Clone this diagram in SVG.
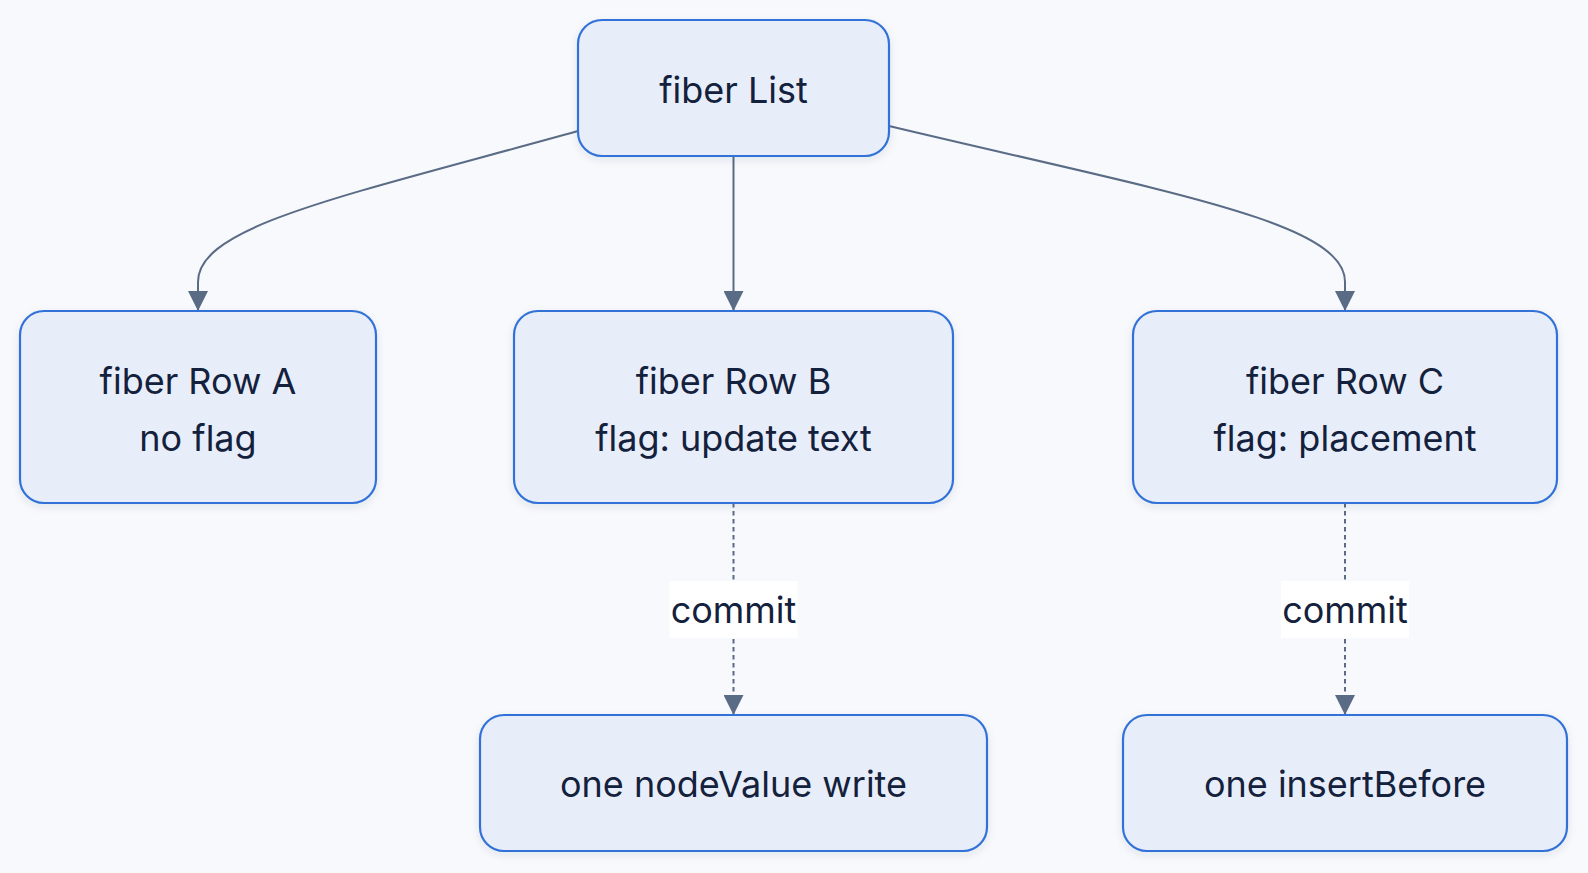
<svg xmlns="http://www.w3.org/2000/svg" width="1588" height="873" viewBox="0 0 1588 873">
<style>
.node rect{fill:#e8eef9;stroke:#3272d8;stroke-width:2.2;filter:url(#sh)}
.node text,.lbl text{font-family:Inter,"Noto Sans","Liberation Sans",sans-serif;font-size:36px;fill:#14213d;text-anchor:middle}
.edge{fill:none;stroke:#5a6b85;stroke-width:2}
.dash{stroke-dasharray:4.5 3.5}
.lbl rect{fill:#ffffff}
</style>
<defs>
<filter id="sh" x="-10%" y="-10%" width="120%" height="130%">
<feDropShadow dx="0" dy="3" stdDeviation="4" flood-color="#1e2b4a" flood-opacity="0.09"/>
</filter>
<marker id="arrow" viewBox="0 0 20 20" refX="20" refY="10" markerWidth="20" markerHeight="20" markerUnits="userSpaceOnUse" orient="auto">
<path d="M0,0 L20,10 L0,20 z" fill="#5a6b85"/>
</marker>
</defs>
<rect width="1588" height="873" fill="#f7f9fc"/>
<g id="connectors">
<path class="edge" d="M578,131 C340,197 198,226 198,282 L198,311" marker-end="url(#arrow)"/>
<path class="edge" d="M733.5,156 L733.5,311" marker-end="url(#arrow)"/>
<path class="edge" d="M889,126 C1170,193 1345,222 1345,282 L1345,311" marker-end="url(#arrow)"/>
<path class="edge dash" d="M733.5,503 L733.5,715" marker-end="url(#arrow)"/>
<path class="edge dash" d="M1345,503 L1345,715" marker-end="url(#arrow)"/>
<g class="lbl" id="lbl-b"><rect x="669.5" y="581" width="128" height="57"/><text x="733.5" y="623">commit</text></g>
<g class="lbl" id="lbl-c"><rect x="1281" y="581" width="128" height="57"/><text x="1345" y="623">commit</text></g>
</g>
<g class="node" id="list"><rect x="578" y="20" width="311" height="136" rx="24"/><text x="733.5" y="103">fiber List</text></g>
<g class="node" id="rowA"><rect x="20" y="311" width="356" height="192" rx="24"/><text x="198" y="394">fiber Row A</text><text x="198" y="451">no flag</text></g>
<g class="node" id="rowB"><rect x="514" y="311" width="439" height="192" rx="24"/><text x="733.5" y="394">fiber Row B</text><text x="733.5" y="451">flag: update text</text></g>
<g class="node" id="rowC"><rect x="1133" y="311" width="424" height="192" rx="24"/><text x="1345" y="394">fiber Row C</text><text x="1345" y="451">flag: placement</text></g>
<g class="node" id="writeB"><rect x="480" y="715" width="507" height="136" rx="24"/><text x="733.5" y="797">one nodeValue write</text></g>
<g class="node" id="insertC"><rect x="1123" y="715" width="444" height="136" rx="24"/><text x="1345" y="797">one insertBefore</text></g>
</svg>
